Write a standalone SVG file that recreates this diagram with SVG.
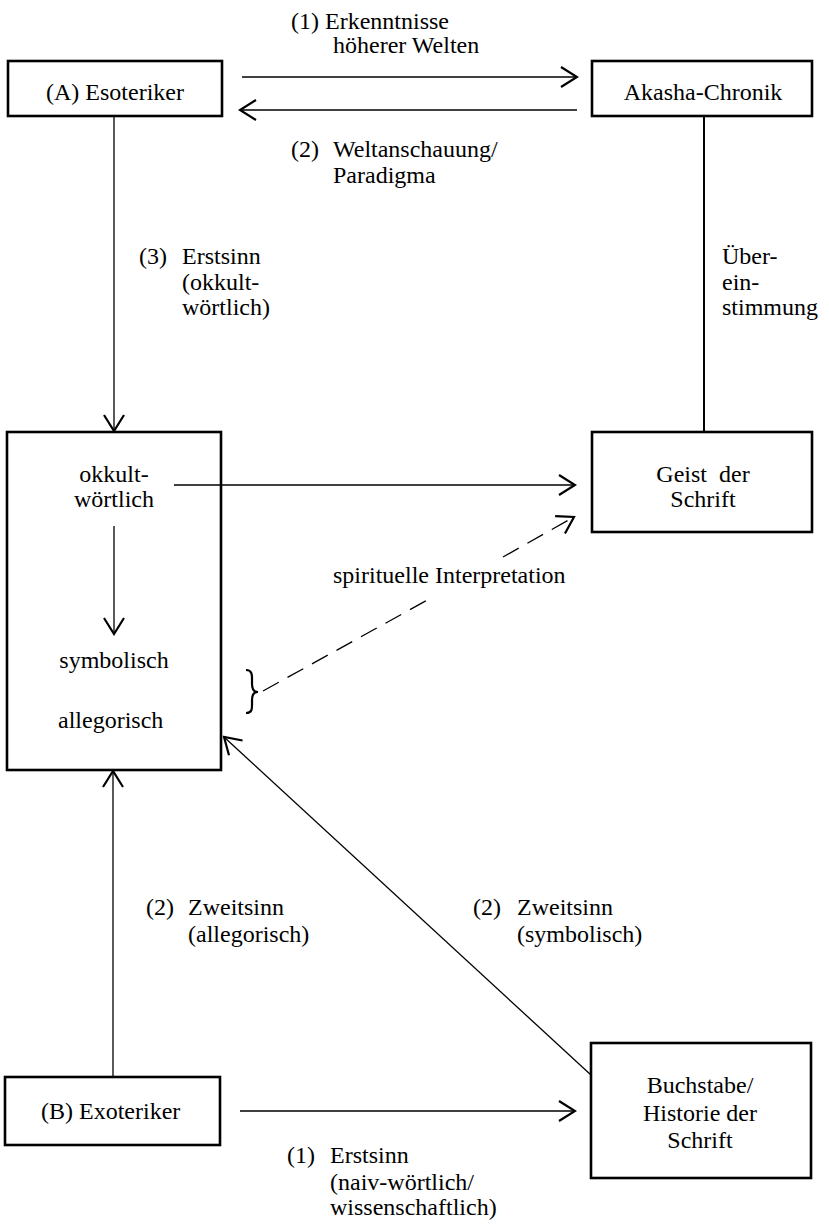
<svg xmlns="http://www.w3.org/2000/svg" width="829" height="1224" viewBox="0 0 829 1224">
<style>
text{font-family:"Liberation Serif","Times New Roman",serif;font-size:24px;fill:#000}
.m{text-anchor:middle}
.box{fill:#fff;stroke:#000;stroke-width:2.6}
.c{fill:none;stroke:#000;stroke-width:1.3}
</style>
<defs>
<marker id="arr" viewBox="0 0 20 24" refX="18" refY="12" markerWidth="20" markerHeight="24" markerUnits="userSpaceOnUse" orient="auto">
<path d="M2,2 L18,12 L2,22" fill="none" stroke="#000" stroke-width="2.2"/>
</marker>
</defs>
<rect width="829" height="1224" fill="#fff"/>
<g id="connectors">
<path class="c" d="M242,77 H577" marker-end="url(#arr)"/>
<path class="c" d="M577,110 H240" marker-end="url(#arr)"/>
<path class="c" d="M114,116 V431" marker-end="url(#arr)"/>
<path class="c" d="M704,116 V432" style="stroke-width:2"/>
<path class="c" d="M174,485 H575" marker-end="url(#arr)"/>
<path class="c" d="M114,526 V634" marker-end="url(#arr)"/>
<path class="c" d="M263,691 L431,598" stroke-dasharray="18,10"/>
<path class="c" d="M503,557 L574,517" stroke-dasharray="18,10" marker-end="url(#arr)"/>
<path class="c" d="M246,670 C253,670 252,676 252,684 C252,690 254,692 258,692 C254,692 252,694 252,700 C252,708 253,713 246,713" style="stroke-width:2.2"/>
<path class="c" d="M113,1077 V771" marker-end="url(#arr)"/>
<path class="c" d="M591,1075 L224,737" marker-end="url(#arr)"/>
<path class="c" d="M240,1111 H575" marker-end="url(#arr)"/>
</g>
<g id="label-1">
<text x="291" y="29">(1) Erkenntnisse</text>
<text x="333" y="53">höherer Welten</text>
</g>
<g id="label-2">
<text x="291" y="157">(2)</text>
<text x="333" y="157">Weltanschauung/</text>
<text x="333" y="183">Paradigma</text>
</g>
<g id="node-esoteriker">
<rect class="box" x="8" y="61" width="214" height="55"/>
<text x="46" y="100">(A) Esoteriker</text>
</g>
<g id="node-akasha">
<rect class="box" x="592" y="61" width="220" height="55"/>
<text class="m" x="703" y="100">Akasha-Chronik</text>
</g>
<g id="label-3">
<text x="139" y="264">(3)</text>
<text x="182" y="264">Erstsinn</text>
<text x="182" y="290">(okkult-</text>
<text x="182" y="315">wörtlich)</text>
</g>
<g id="label-uebereinstimmung">
<text x="722" y="264">Über-</text>
<text x="722" y="290">ein-</text>
<text x="722" y="315">stimmung</text>
</g>
<g id="node-okkult">
<rect class="box" x="7" y="432" width="214" height="338" style="fill:none"/>
<text class="m" x="114" y="482">okkult-</text>
<text class="m" x="114" y="507">wörtlich</text>
<text class="m" x="114" y="668">symbolisch</text>
<text x="58" y="728">allegorisch</text>
</g>
<g id="node-geist">
<rect class="box" x="592" y="432" width="220" height="100"/>
<text class="m" x="703" y="482" xml:space="preserve">Geist  der</text>
<text class="m" x="703" y="507">Schrift</text>
</g>
<g id="label-spirituell">
<text x="333" y="583">spirituelle Interpretation</text>
</g>
<g id="label-zweitsinn-a">
<text x="146" y="915">(2)</text>
<text x="188" y="915">Zweitsinn</text>
<text x="188" y="942">(allegorisch)</text>
</g>
<g id="label-zweitsinn-s">
<text x="473" y="915">(2)</text>
<text x="517" y="915">Zweitsinn</text>
<text x="517" y="942">(symbolisch)</text>
</g>
<g id="node-exoteriker">
<rect class="box" x="5" y="1077" width="215" height="68"/>
<text x="41" y="1119">(B) Exoteriker</text>
</g>
<g id="node-buchstabe">
<rect class="box" x="591" y="1043" width="220" height="135"/>
<text class="m" x="700" y="1093">Buchstabe/</text>
<text class="m" x="700" y="1121">Historie der</text>
<text class="m" x="700" y="1148">Schrift</text>
</g>
<g id="label-erstsinn">
<text x="287" y="1163">(1)</text>
<text x="330" y="1163">Erstsinn</text>
<text x="330" y="1190">(naiv-wörtlich/</text>
<text x="330" y="1215">wissenschaftlich)</text>
</g>
</svg>
